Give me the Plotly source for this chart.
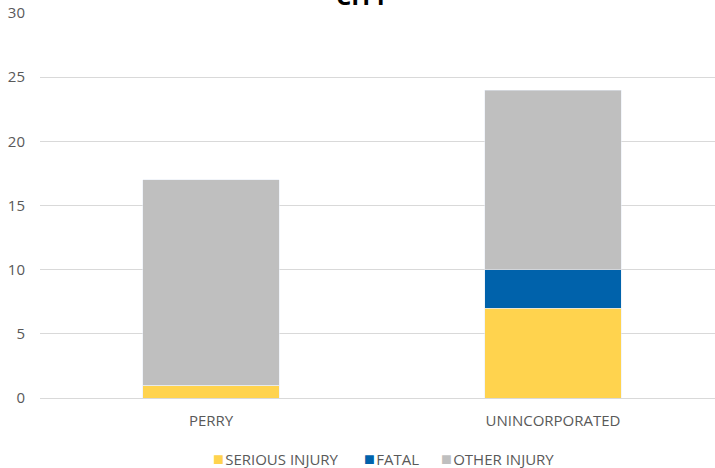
import plotly.graph_objects as go

categories = ["PERRY", "UNINCORPORATED"]
serious = [1, 7]
fatal = [0, 3]
other = [16, 14]
y_ticks = [0, 5, 10, 15, 20, 25, 30]
series_names = ["SERIOUS INJURY", "FATAL", "OTHER INJURY"]
series_colors = ["#FFD34E", "#0062AB", "#BFBFBF"]

fig = go.Figure()
for name, vals, col in zip(series_names, [serious, fatal, other], series_colors):
    fig.add_trace(go.Bar(name=name, x=categories, y=vals, marker_color=col, width=0.4, showlegend=False))

font_family = "Open Sans, Liberation Sans, sans-serif"
fig.update_layout(
    barmode="stack",
    width=715, height=468,
    margin=dict(l=40, r=0, t=13, b=70, autoexpand=False),
    paper_bgcolor="white", plot_bgcolor="white",
    font=dict(family=font_family, size=15, color="#595959"),
    xaxis=dict(range=[-0.5, 1.4737], showgrid=False, showline=True, linecolor="#D9D9D9",
               tickfont=dict(size=15, color="#595959"), ticklabelstandoff=9),
    yaxis=dict(range=[0, 30], tickvals=y_ticks, showgrid=True, gridcolor="#D9D9D9", gridwidth=1,
               zeroline=False, tickfont=dict(size=15, color="#595959"), ticklabelstandoff=14),
    showlegend=False,
)

# Title (partially cut off at the top, as in the reference)
fig.add_annotation(text="<b>CITY</b>", xref="paper", yref="paper", x=(362 - 40) / 675, y=1,
                   xanchor="center", yanchor="bottom", showarrow=False, yshift=-1,
                   font=dict(size=24, color="#000000", family=font_family))

# Legend built from the series names and colours
legend_x = [211, 362, 439]
for name, col, lx in zip(series_names, series_colors, legend_x):
    fig.add_annotation(text=f"<span style='color:{col};font-size:18px'>■</span><span style='font-size:5px'> </span>{name}",
                       xref="paper", yref="paper",
                       x=(lx - 40) / 675, y=-60 / 385, xanchor="left", yanchor="middle", showarrow=False,
                       font=dict(size=15, color="#595959", family=font_family))

fig.write_html("out.html", post_script="document.body.style.margin='0';",
               config={"displayModeBar": False})
